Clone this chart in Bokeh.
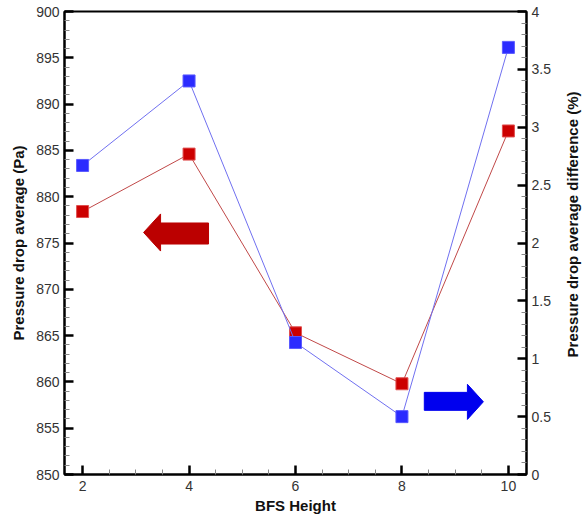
import math
from bokeh.plotting import figure
from bokeh.layouts import row
from bokeh.models import Range1d, LinearAxis, FixedTicker, Label
from bokeh.embed import file_html
from bokeh.resources import INLINE

# Data
bfs_height = [2, 4, 6, 8, 10]
pressure_drop_pa = [878.4, 884.6, 865.3, 859.8, 887.1]
pressure_diff_pct = [2.67, 3.40, 1.14, 0.50, 3.69]

x_ticks = [2, 4, 6, 8, 10]
x_minor = [2.5, 3, 3.5, 4.5, 5, 5.5, 6.5, 7, 7.5, 8.5, 9, 9.5]
left_ticks = [850, 855, 860, 865, 870, 875, 880, 885, 890, 895, 900]
left_minor = [v for v in range(850, 901) if v % 5 != 0]
right_ticks = [0, 0.5, 1, 1.5, 2, 2.5, 3, 3.5, 4]
right_minor = [i / 10 for i in range(0, 41) if i % 5 != 0]

X0, X1 = 1.66, 10.34
Y0, Y1 = 850, 900
R0, R1 = 0, 4

W, H = 557, 519          # main figure; a 30 px strip on the right holds the right-axis title
STRIP = 30
BL, BR, BT, BB = 64, 31, 11, 45

RED = "#cc0000"
BLUE = "#2b2bff"
FONT = "Liberation Sans"

p = figure(width=W, height=H, output_backend="svg", toolbar_location=None,
           x_range=Range1d(X0, X1), y_range=Range1d(Y0, Y1),
           min_border_left=BL, min_border_right=BR, min_border_top=BT,
           min_border_bottom=BB)
p.extra_y_ranges = {"pct": Range1d(R0, R1)}
p.grid.visible = False
p.outline_line_color = "black"
p.outline_line_width = 2
p.background_fill_color = "white"
p.border_fill_color = "white"

def style(ax):
    ax.axis_line_color = "black"
    ax.axis_line_width = 2
    ax.major_tick_in = 9
    ax.major_tick_out = 0
    ax.minor_tick_in = 5
    ax.minor_tick_out = 0
    ax.major_tick_line_color = "black"
    ax.major_tick_line_width = 2.5
    ax.minor_tick_line_color = "#888888"
    ax.minor_tick_line_width = 1
    ax.major_label_text_font = FONT
    ax.major_label_text_font_size = "14px"
    ax.major_label_text_color = "#333333"
    ax.axis_label_text_font = FONT
    ax.axis_label_text_font_size = "15px"
    ax.axis_label_text_font_style = "bold"
    ax.axis_label_text_color = "#111111"

p.xaxis.ticker = FixedTicker(ticks=x_ticks, minor_ticks=x_minor)
p.xaxis.axis_label = "BFS Height"
p.xaxis.axis_label_standoff = 3
p.xaxis.major_label_standoff = 6
style(p.xaxis[0])

p.yaxis.ticker = FixedTicker(ticks=left_ticks, minor_ticks=left_minor)
p.yaxis.axis_label = "Pressure drop average (Pa)"
p.yaxis.major_label_standoff = 5
p.yaxis.axis_label_standoff = 6
style(p.yaxis[0])

ra = LinearAxis(y_range_name="pct", ticker=FixedTicker(ticks=right_ticks, minor_ticks=right_minor))
style(ra)
ra.major_label_standoff = 5
p.add_layout(ra, "right")

# Series
p.line(bfs_height, pressure_drop_pa, line_color="#c04848", line_width=1)
p.scatter(bfs_height, pressure_drop_pa, marker="square", size=12,
          fill_color=RED, line_color="#e05050", line_width=1)

p.line(bfs_height, pressure_diff_pct, y_range_name="pct", line_color="#7070f0", line_width=1)
p.scatter(bfs_height, pressure_diff_pct, y_range_name="pct", marker="square", size=12,
          fill_color=BLUE, line_color="#5a5aff", line_width=1)

# Arrows indicating axes
p.patch([3.146, 3.465, 3.465, 4.366, 4.366, 3.465, 3.465],
        [876.14, 878.14, 877.16, 877.16, 874.89, 874.89, 874.13],
        fill_color="#bb0000", line_color="#bb0000")
p.patch([8.42, 9.23, 9.23, 9.53, 9.23, 9.23, 8.42],
        [858.87, 858.87, 859.74, 857.85, 855.95, 856.93, 856.93],
        fill_color="#0000ee", line_color="#0000ee")

# Strip holding the right-axis title (reads bottom to top)
t = figure(width=STRIP, height=H, output_backend="svg", toolbar_location=None,
           x_range=Range1d(0, 1), y_range=Range1d(0, 1),
           x_axis_location=None, y_axis_location=None, min_border=0)
t.grid.visible = False
t.outline_line_color = None
t.background_fill_color = "white"
t.border_fill_color = "white"
t.add_layout(Label(x=0.5, y=0.54, text="Pressure drop average difference (%)",
                   angle=math.pi / 2, text_align="center", text_baseline="middle",
                   text_font=FONT, text_font_size="15px", text_font_style="bold",
                   text_color="#111111"))

layout = row(p, t, spacing=0)
open("out.html", "w").write(file_html(layout, INLINE))
